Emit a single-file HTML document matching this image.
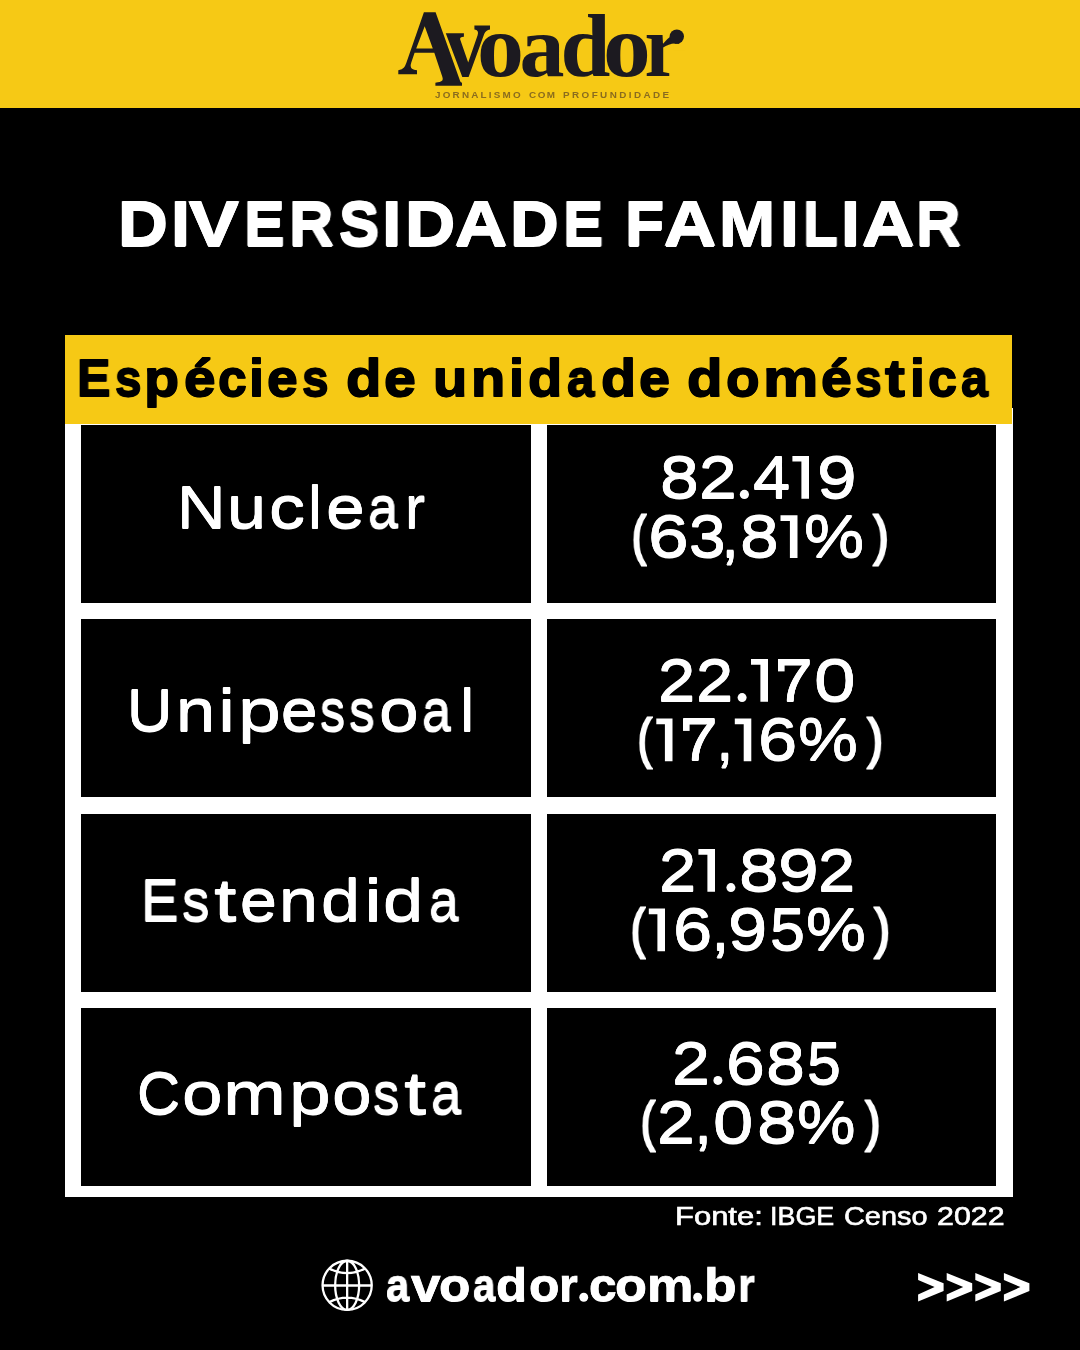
<!DOCTYPE html>
<html><head><meta charset="utf-8"><title>Diversidade Familiar</title>
<style>
html,body{margin:0;padding:0;background:#000;}
body{width:1080px;height:1350px;position:relative;overflow:hidden;font-family:"Liberation Sans",sans-serif;}
.t{position:absolute;white-space:pre;transform-origin:0 0;margin:0;will-change:transform;}
.c{position:absolute;background:#000;}
#top{position:absolute;left:0;top:0;width:1080px;height:108px;background:#F6C915;}
#tbl{position:absolute;left:65px;top:408px;width:947.5px;height:788.8px;background:#fff;}
#hdr{position:absolute;left:65px;top:335px;width:947px;height:88.5px;background:#F6C915;}
svg{position:absolute;left:0;top:0;}
</style></head><body>
<div id="top"></div>
<svg width="1080" height="110" viewBox="0 0 1080 110" role="img" aria-label="Avoador" style="font-family:'Liberation Serif',serif;font-weight:bold" fill="#1c1a20"><path d="M445.8,33.3 L463.9,33.3 L463.9,36.7 Q459.5,36.9 460.2,39.4 L468.2,62.4 L477.6,35.2 Q479.3,30 474.4,29.4 L474.4,25.6 L490,25.6 L490,29.4 Q485.8,29.9 484.2,34 L468.6,76.9 L462.3,76.9 L447.2,36.9 Z"/><path d="M423.9,12.2 L435.6,12.2 L460.3,81.5 Q460.8,82.6 462,82.7 L462,85.7 L435.4,85.7 L435.4,82.7 Q440.5,82.3 442.3,80.6 Q443.2,79.3 442.4,77 L434.3,52.8 L414.6,52.8 L411.3,62.5 Q409.8,67 412,68.8 Q413.6,70 417,70.3 L417,74.3 L398.3,74.3 L398.3,70.3 Q402.2,69.8 404,67.5 Q405.3,65.8 406.3,63 Z M424.7,26.3 L416.2,48.4 L432.8,48.4 Z" stroke="#F6C915" stroke-width="0.8" paint-order="stroke"/><text transform="translate(477.06,75.50) scale(1.0508,1)" font-size="89.40">o</text><text transform="translate(519.59,75.50) scale(1.0070,1)" font-size="89.40">a</text><text transform="translate(560.49,75.50) scale(1.0044,1)" font-size="89.40">d</text><text transform="translate(603.01,75.50) scale(1.0687,1)" font-size="89.40">o</text><text transform="translate(644.51,75.50) scale(0.9200,1)" font-size="89.40">r</text><circle cx="676.8" cy="36.6" r="7.2"/><rect x="673.6" y="43.9" width="12" height="6.5" fill="#F6C915"/></svg>
<div id="tbl"></div>
<div id="hdr"></div>
<div class="c" style="left:81px;top:425px;width:449.5px;height:178px"></div>
<div class="c" style="left:547px;top:425px;width:449px;height:178px"></div>
<div class="c" style="left:81px;top:619.3px;width:449.5px;height:178px"></div>
<div class="c" style="left:547px;top:619.3px;width:449px;height:178px"></div>
<div class="c" style="left:81px;top:813.7px;width:449.5px;height:178px"></div>
<div class="c" style="left:547px;top:813.7px;width:449px;height:178px"></div>
<div class="c" style="left:81px;top:1008px;width:449.5px;height:178px"></div>
<div class="c" style="left:547px;top:1008px;width:449px;height:178px"></div>
<div class="w" role="text" aria-label="DIVERSIDADE"><span class="t" style="left:118.45px;top:192.29px;font-size:62.86px;line-height:62.86px;transform:scaleX(1.0986);color:#fff;font-weight:bold;-webkit-text-stroke:1.4px #fff;text-shadow:0 1px 0 #fff,0 2px 0 #fff,0 -1px 0 #fff;">D</span><span class="t" style="left:170.99px;top:192.29px;font-size:62.86px;line-height:62.86px;transform:scaleX(1.0871);color:#fff;font-weight:bold;-webkit-text-stroke:1.4px #fff;text-shadow:0 1px 0 #fff,0 2px 0 #fff,0 -1px 0 #fff;">I</span><span class="t" style="left:189.13px;top:192.29px;font-size:62.86px;line-height:62.86px;transform:scaleX(1.1848);color:#fff;font-weight:bold;-webkit-text-stroke:1.4px #fff;text-shadow:0 1px 0 #fff,0 2px 0 #fff,0 -1px 0 #fff;">V</span><span class="t" style="left:243.57px;top:192.29px;font-size:62.86px;line-height:62.86px;transform:scaleX(0.9697);color:#fff;font-weight:bold;-webkit-text-stroke:1.4px #fff;text-shadow:0 1px 0 #fff,0 2px 0 #fff,0 -1px 0 #fff;">E</span><span class="t" style="left:289.34px;top:192.29px;font-size:62.86px;line-height:62.86px;transform:scaleX(0.9791);color:#fff;font-weight:bold;-webkit-text-stroke:1.4px #fff;text-shadow:0 1px 0 #fff,0 2px 0 #fff,0 -1px 0 #fff;">R</span><span class="t" style="left:338.93px;top:192.29px;font-size:62.86px;line-height:62.86px;transform:scaleX(0.9610);color:#fff;font-weight:bold;-webkit-text-stroke:1.4px #fff;text-shadow:0 1px 0 #fff,0 2px 0 #fff,0 -1px 0 #fff;">S</span><span class="t" style="left:382.20px;top:192.29px;font-size:62.86px;line-height:62.86px;transform:scaleX(1.1139);color:#fff;font-weight:bold;-webkit-text-stroke:1.4px #fff;text-shadow:0 1px 0 #fff,0 2px 0 #fff,0 -1px 0 #fff;">I</span><span class="t" style="left:404.73px;top:192.29px;font-size:62.86px;line-height:62.86px;transform:scaleX(1.1060);color:#fff;font-weight:bold;-webkit-text-stroke:1.4px #fff;text-shadow:0 1px 0 #fff,0 2px 0 #fff,0 -1px 0 #fff;">D</span><span class="t" style="left:455.48px;top:192.29px;font-size:62.86px;line-height:62.86px;transform:scaleX(1.1475);color:#fff;font-weight:bold;-webkit-text-stroke:1.4px #fff;text-shadow:0 1px 0 #fff,0 2px 0 #fff,0 -1px 0 #fff;">A</span><span class="t" style="left:509.83px;top:192.29px;font-size:62.86px;line-height:62.86px;transform:scaleX(1.0740);color:#fff;font-weight:bold;-webkit-text-stroke:1.4px #fff;text-shadow:0 1px 0 #fff,0 2px 0 #fff,0 -1px 0 #fff;">D</span><span class="t" style="left:562.70px;top:192.29px;font-size:62.86px;line-height:62.86px;transform:scaleX(0.9591);color:#fff;font-weight:bold;-webkit-text-stroke:1.4px #fff;text-shadow:0 1px 0 #fff,0 2px 0 #fff,0 -1px 0 #fff;">E</span></div>
<div class="w" role="text" aria-label="FAMILIAR"><span class="t" style="left:624.71px;top:192.29px;font-size:62.86px;line-height:62.86px;transform:scaleX(1.0203);color:#fff;font-weight:bold;-webkit-text-stroke:1.4px #fff;text-shadow:0 1px 0 #fff,0 2px 0 #fff,0 -1px 0 #fff;">F</span><span class="t" style="left:664.38px;top:192.29px;font-size:62.86px;line-height:62.86px;transform:scaleX(1.1453);color:#fff;font-weight:bold;-webkit-text-stroke:1.4px #fff;text-shadow:0 1px 0 #fff,0 2px 0 #fff,0 -1px 0 #fff;">A</span><span class="t" style="left:719.03px;top:192.29px;font-size:62.86px;line-height:62.86px;transform:scaleX(1.0734);color:#fff;font-weight:bold;-webkit-text-stroke:1.4px #fff;text-shadow:0 1px 0 #fff,0 2px 0 #fff,0 -1px 0 #fff;">M</span><span class="t" style="left:779.62px;top:192.29px;font-size:62.86px;line-height:62.86px;transform:scaleX(1.0782);color:#fff;font-weight:bold;-webkit-text-stroke:1.4px #fff;text-shadow:0 1px 0 #fff,0 2px 0 #fff,0 -1px 0 #fff;">I</span><span class="t" style="left:802.77px;top:192.29px;font-size:62.86px;line-height:62.86px;transform:scaleX(0.9082);color:#fff;font-weight:bold;-webkit-text-stroke:1.4px #fff;text-shadow:0 1px 0 #fff,0 2px 0 #fff,0 -1px 0 #fff;">L</span><span class="t" style="left:841.02px;top:192.29px;font-size:62.86px;line-height:62.86px;transform:scaleX(1.0782);color:#fff;font-weight:bold;-webkit-text-stroke:1.4px #fff;text-shadow:0 1px 0 #fff,0 2px 0 #fff,0 -1px 0 #fff;">I</span><span class="t" style="left:862.27px;top:192.29px;font-size:62.86px;line-height:62.86px;transform:scaleX(1.1520);color:#fff;font-weight:bold;-webkit-text-stroke:1.4px #fff;text-shadow:0 1px 0 #fff,0 2px 0 #fff,0 -1px 0 #fff;">A</span><span class="t" style="left:915.93px;top:192.29px;font-size:62.86px;line-height:62.86px;transform:scaleX(0.9815);color:#fff;font-weight:bold;-webkit-text-stroke:1.4px #fff;text-shadow:0 1px 0 #fff,0 2px 0 #fff,0 -1px 0 #fff;">R</span></div>
<div class="w" role="text" aria-label="Espécies"><span class="t" style="left:76.79px;top:352.75px;font-size:51.63px;line-height:51.63px;transform:scaleX(0.9730);color:#000;font-weight:bold;-webkit-text-stroke:1.5px #000;text-shadow:0 1px 0 #000,0 -1px 0 #000;">E</span><span class="t" style="left:114.51px;top:352.75px;font-size:51.63px;line-height:51.63px;transform:scaleX(0.9205);color:#000;font-weight:bold;-webkit-text-stroke:1.5px #000;text-shadow:0 1px 0 #000,0 -1px 0 #000;">s</span><span class="t" style="left:144.24px;top:352.75px;font-size:51.63px;line-height:51.63px;transform:scaleX(1.1131);color:#000;font-weight:bold;-webkit-text-stroke:1.5px #000;text-shadow:0 1px 0 #000,0 -1px 0 #000;">p</span><span class="t" style="left:184.05px;top:352.75px;font-size:51.63px;line-height:51.63px;transform:scaleX(1.0984);color:#000;font-weight:bold;-webkit-text-stroke:1.5px #000;text-shadow:0 1px 0 #000,0 -1px 0 #000;">é</span><span class="t" style="left:218.34px;top:352.75px;font-size:51.63px;line-height:51.63px;transform:scaleX(0.9995);color:#000;font-weight:bold;-webkit-text-stroke:1.5px #000;text-shadow:0 1px 0 #000,0 -1px 0 #000;">c</span><span class="t" style="left:249.41px;top:352.75px;font-size:51.63px;line-height:51.63px;transform:scaleX(1.0453);color:#000;font-weight:bold;-webkit-text-stroke:1.5px #000;text-shadow:0 1px 0 #000,0 -1px 0 #000;">i</span><span class="t" style="left:267.38px;top:352.75px;font-size:51.63px;line-height:51.63px;transform:scaleX(1.0691);color:#000;font-weight:bold;-webkit-text-stroke:1.5px #000;text-shadow:0 1px 0 #000,0 -1px 0 #000;">e</span><span class="t" style="left:302.20px;top:352.75px;font-size:51.63px;line-height:51.63px;transform:scaleX(0.9243);color:#000;font-weight:bold;-webkit-text-stroke:1.5px #000;text-shadow:0 1px 0 #000,0 -1px 0 #000;">s</span></div>
<div class="w" role="text" aria-label="de"><span class="t" style="left:345.73px;top:352.75px;font-size:51.63px;line-height:51.63px;transform:scaleX(1.1238);color:#000;font-weight:bold;-webkit-text-stroke:1.5px #000;text-shadow:0 1px 0 #000,0 -1px 0 #000;">d</span><span class="t" style="left:383.74px;top:352.75px;font-size:51.63px;line-height:51.63px;transform:scaleX(1.1093);color:#000;font-weight:bold;-webkit-text-stroke:1.5px #000;text-shadow:0 1px 0 #000,0 -1px 0 #000;">e</span></div>
<div class="w" role="text" aria-label="unidade"><span class="t" style="left:433.48px;top:352.75px;font-size:51.63px;line-height:51.63px;transform:scaleX(1.0874);color:#000;font-weight:bold;-webkit-text-stroke:1.5px #000;text-shadow:0 1px 0 #000,0 -1px 0 #000;">u</span><span class="t" style="left:470.61px;top:352.75px;font-size:51.63px;line-height:51.63px;transform:scaleX(1.0874);color:#000;font-weight:bold;-webkit-text-stroke:1.5px #000;text-shadow:0 1px 0 #000,0 -1px 0 #000;">n</span><span class="t" style="left:509.11px;top:352.75px;font-size:51.63px;line-height:51.63px;transform:scaleX(1.0453);color:#000;font-weight:bold;-webkit-text-stroke:1.5px #000;text-shadow:0 1px 0 #000,0 -1px 0 #000;">i</span><span class="t" style="left:528.26px;top:352.75px;font-size:51.63px;line-height:51.63px;transform:scaleX(1.0846);color:#000;font-weight:bold;-webkit-text-stroke:1.5px #000;text-shadow:0 1px 0 #000,0 -1px 0 #000;">d</span><span class="t" style="left:566.65px;top:352.75px;font-size:51.63px;line-height:51.63px;transform:scaleX(0.9518);color:#000;font-weight:bold;-webkit-text-stroke:1.5px #000;text-shadow:0 1px 0 #000,0 -1px 0 #000;">a</span><span class="t" style="left:600.74px;top:352.75px;font-size:51.63px;line-height:51.63px;transform:scaleX(1.1131);color:#000;font-weight:bold;-webkit-text-stroke:1.5px #000;text-shadow:0 1px 0 #000,0 -1px 0 #000;">d</span><span class="t" style="left:638.77px;top:352.75px;font-size:51.63px;line-height:51.63px;transform:scaleX(1.0801);color:#000;font-weight:bold;-webkit-text-stroke:1.5px #000;text-shadow:0 1px 0 #000,0 -1px 0 #000;">e</span></div>
<div class="w" role="text" aria-label="doméstica"><span class="t" style="left:687.33px;top:352.75px;font-size:51.63px;line-height:51.63px;transform:scaleX(1.1273);color:#000;font-weight:bold;-webkit-text-stroke:1.5px #000;text-shadow:0 1px 0 #000,0 -1px 0 #000;">d</span><span class="t" style="left:726.08px;top:352.75px;font-size:51.63px;line-height:51.63px;transform:scaleX(1.0661);color:#000;font-weight:bold;-webkit-text-stroke:1.5px #000;text-shadow:0 1px 0 #000,0 -1px 0 #000;">o</span><span class="t" style="left:763.31px;top:352.75px;font-size:51.63px;line-height:51.63px;transform:scaleX(1.2065);color:#000;font-weight:bold;-webkit-text-stroke:1.5px #000;text-shadow:0 1px 0 #000,0 -1px 0 #000;">m</span><span class="t" style="left:821.07px;top:352.75px;font-size:51.63px;line-height:51.63px;transform:scaleX(1.0727);color:#000;font-weight:bold;-webkit-text-stroke:1.5px #000;text-shadow:0 1px 0 #000,0 -1px 0 #000;">é</span><span class="t" style="left:854.50px;top:352.75px;font-size:51.63px;line-height:51.63px;transform:scaleX(0.9318);color:#000;font-weight:bold;-webkit-text-stroke:1.5px #000;text-shadow:0 1px 0 #000,0 -1px 0 #000;">s</span><span class="t" style="left:885.47px;top:352.75px;font-size:51.63px;line-height:51.63px;transform:scaleX(1.1551);color:#000;font-weight:bold;-webkit-text-stroke:1.5px #000;text-shadow:0 1px 0 #000,0 -1px 0 #000;">t</span><span class="t" style="left:909.84px;top:352.75px;font-size:51.63px;line-height:51.63px;transform:scaleX(1.0348);color:#000;font-weight:bold;-webkit-text-stroke:1.5px #000;text-shadow:0 1px 0 #000,0 -1px 0 #000;">i</span><span class="t" style="left:928.13px;top:352.75px;font-size:51.63px;line-height:51.63px;transform:scaleX(1.0068);color:#000;font-weight:bold;-webkit-text-stroke:1.5px #000;text-shadow:0 1px 0 #000,0 -1px 0 #000;">c</span><span class="t" style="left:960.95px;top:352.75px;font-size:51.63px;line-height:51.63px;transform:scaleX(0.9383);color:#000;font-weight:bold;-webkit-text-stroke:1.5px #000;text-shadow:0 1px 0 #000,0 -1px 0 #000;">a</span></div>
<div class="w" role="text" aria-label="Nuclear"><span class="t" style="left:176.63px;top:478.37px;font-size:59.16px;line-height:59.16px;transform:scaleX(1.1368);color:#fff;-webkit-text-stroke:0.5px #fff;text-shadow:0 1px 0 #fff,0 -1px 0 #fff;">N</span><span class="t" style="left:227.31px;top:478.37px;font-size:59.16px;line-height:59.16px;transform:scaleX(1.1863);color:#fff;-webkit-text-stroke:0.5px #fff;text-shadow:0 1px 0 #fff,0 -1px 0 #fff;">u</span><span class="t" style="left:269.06px;top:478.37px;font-size:59.16px;line-height:59.16px;transform:scaleX(1.2157);color:#fff;-webkit-text-stroke:0.5px #fff;text-shadow:0 1px 0 #fff,0 -1px 0 #fff;">c</span><span class="t" style="left:308.35px;top:478.37px;font-size:59.16px;line-height:59.16px;transform:scaleX(1.0584);color:#fff;-webkit-text-stroke:0.5px #fff;text-shadow:0 1px 0 #fff,0 -1px 0 #fff;">l</span><span class="t" style="left:326.02px;top:478.37px;font-size:59.16px;line-height:59.16px;transform:scaleX(1.1764);color:#fff;-webkit-text-stroke:0.5px #fff;text-shadow:0 1px 0 #fff,0 -1px 0 #fff;">e</span><span class="t" style="left:368.34px;top:478.37px;font-size:59.16px;line-height:59.16px;transform:scaleX(0.9145);color:#fff;-webkit-text-stroke:0.5px #fff;text-shadow:0 1px 0 #fff,0 -1px 0 #fff;">a</span><span class="t" style="left:404.99px;top:478.37px;font-size:59.16px;line-height:59.16px;transform:scaleX(1.0175);color:#fff;-webkit-text-stroke:0.5px #fff;text-shadow:0 1px 0 #fff,0 -1px 0 #fff;">r</span></div>
<div class="w" role="text" aria-label="Unipessoal"><span class="t" style="left:127.13px;top:681.69px;font-size:59.02px;line-height:59.02px;transform:scaleX(1.0663);color:#fff;-webkit-text-stroke:0.5px #fff;text-shadow:0 1px 0 #fff,0 -1px 0 #fff;">U</span><span class="t" style="left:176.20px;top:681.69px;font-size:59.02px;line-height:59.02px;transform:scaleX(1.1929);color:#fff;-webkit-text-stroke:0.5px #fff;text-shadow:0 1px 0 #fff,0 -1px 0 #fff;">n</span><span class="t" style="left:218.20px;top:681.69px;font-size:59.02px;line-height:59.02px;transform:scaleX(1.3094);color:#fff;-webkit-text-stroke:0.5px #fff;text-shadow:0 1px 0 #fff,0 -1px 0 #fff;">i</span><span class="t" style="left:238.32px;top:681.69px;font-size:59.02px;line-height:59.02px;transform:scaleX(1.3030);color:#fff;-webkit-text-stroke:0.5px #fff;text-shadow:0 1px 0 #fff,0 -1px 0 #fff;">p</span><span class="t" style="left:281.02px;top:681.69px;font-size:59.02px;line-height:59.02px;transform:scaleX(1.1138);color:#fff;-webkit-text-stroke:0.5px #fff;text-shadow:0 1px 0 #fff,0 -1px 0 #fff;">e</span><span class="t" style="left:319.63px;top:681.69px;font-size:59.02px;line-height:59.02px;transform:scaleX(0.8479);color:#fff;-webkit-text-stroke:0.5px #fff;text-shadow:0 1px 0 #fff,0 -1px 0 #fff;">s</span><span class="t" style="left:349.42px;top:681.69px;font-size:59.02px;line-height:59.02px;transform:scaleX(0.8699);color:#fff;-webkit-text-stroke:0.5px #fff;text-shadow:0 1px 0 #fff,0 -1px 0 #fff;">s</span><span class="t" style="left:379.38px;top:681.69px;font-size:59.02px;line-height:59.02px;transform:scaleX(1.2066);color:#fff;-webkit-text-stroke:0.5px #fff;text-shadow:0 1px 0 #fff,0 -1px 0 #fff;">o</span><span class="t" style="left:421.99px;top:681.69px;font-size:59.02px;line-height:59.02px;transform:scaleX(0.8821);color:#fff;-webkit-text-stroke:0.5px #fff;text-shadow:0 1px 0 #fff,0 -1px 0 #fff;">a</span><span class="t" style="left:460.24px;top:681.69px;font-size:59.02px;line-height:59.02px;transform:scaleX(1.0939);color:#fff;-webkit-text-stroke:0.5px #fff;text-shadow:0 1px 0 #fff,0 -1px 0 #fff;">l</span></div>
<div class="w" role="text" aria-label="Estendida"><span class="t" style="left:141.12px;top:871.69px;font-size:59.02px;line-height:59.02px;transform:scaleX(0.9580);color:#fff;-webkit-text-stroke:0.5px #fff;text-shadow:0 1px 0 #fff,0 -1px 0 #fff;">E</span><span class="t" style="left:182.38px;top:871.69px;font-size:59.02px;line-height:59.02px;transform:scaleX(0.9286);color:#fff;-webkit-text-stroke:0.5px #fff;text-shadow:0 1px 0 #fff,0 -1px 0 #fff;">s</span><span class="t" style="left:213.64px;top:871.69px;font-size:59.02px;line-height:59.02px;transform:scaleX(1.3684);color:#fff;-webkit-text-stroke:0.5px #fff;text-shadow:0 1px 0 #fff,0 -1px 0 #fff;">t</span><span class="t" style="left:240.21px;top:871.69px;font-size:59.02px;line-height:59.02px;transform:scaleX(1.1241);color:#fff;-webkit-text-stroke:0.5px #fff;text-shadow:0 1px 0 #fff,0 -1px 0 #fff;">e</span><span class="t" style="left:278.92px;top:871.69px;font-size:59.02px;line-height:59.02px;transform:scaleX(1.1853);color:#fff;-webkit-text-stroke:0.5px #fff;text-shadow:0 1px 0 #fff,0 -1px 0 #fff;">n</span><span class="t" style="left:321.41px;top:871.69px;font-size:59.02px;line-height:59.02px;transform:scaleX(1.1858);color:#fff;-webkit-text-stroke:0.5px #fff;text-shadow:0 1px 0 #fff,0 -1px 0 #fff;">d</span><span class="t" style="left:363.57px;top:871.69px;font-size:59.02px;line-height:59.02px;transform:scaleX(1.3757);color:#fff;-webkit-text-stroke:0.5px #fff;text-shadow:0 1px 0 #fff,0 -1px 0 #fff;">i</span><span class="t" style="left:383.35px;top:871.69px;font-size:59.02px;line-height:59.02px;transform:scaleX(1.2213);color:#fff;-webkit-text-stroke:0.5px #fff;text-shadow:0 1px 0 #fff,0 -1px 0 #fff;">d</span><span class="t" style="left:428.56px;top:871.69px;font-size:59.02px;line-height:59.02px;transform:scaleX(0.9009);color:#fff;-webkit-text-stroke:0.5px #fff;text-shadow:0 1px 0 #fff,0 -1px 0 #fff;">a</span></div>
<div class="w" role="text" aria-label="Composta"><span class="t" style="left:136.76px;top:1064.59px;font-size:59.02px;line-height:59.02px;transform:scaleX(1.0102);color:#fff;-webkit-text-stroke:0.5px #fff;text-shadow:0 1px 0 #fff,0 -1px 0 #fff;">C</span><span class="t" style="left:181.83px;top:1064.59px;font-size:59.02px;line-height:59.02px;transform:scaleX(1.2341);color:#fff;-webkit-text-stroke:0.5px #fff;text-shadow:0 1px 0 #fff,0 -1px 0 #fff;">o</span><span class="t" style="left:222.79px;top:1064.59px;font-size:59.02px;line-height:59.02px;transform:scaleX(1.2814);color:#fff;-webkit-text-stroke:0.5px #fff;text-shadow:0 1px 0 #fff,0 -1px 0 #fff;">m</span><span class="t" style="left:288.83px;top:1064.59px;font-size:59.02px;line-height:59.02px;transform:scaleX(1.2700);color:#fff;-webkit-text-stroke:0.5px #fff;text-shadow:0 1px 0 #fff,0 -1px 0 #fff;">p</span><span class="t" style="left:331.88px;top:1064.59px;font-size:59.02px;line-height:59.02px;transform:scaleX(1.2066);color:#fff;-webkit-text-stroke:0.5px #fff;text-shadow:0 1px 0 #fff,0 -1px 0 #fff;">o</span><span class="t" style="left:373.10px;top:1064.59px;font-size:59.02px;line-height:59.02px;transform:scaleX(0.8919);color:#fff;-webkit-text-stroke:0.5px #fff;text-shadow:0 1px 0 #fff,0 -1px 0 #fff;">s</span><span class="t" style="left:404.34px;top:1064.59px;font-size:59.02px;line-height:59.02px;transform:scaleX(1.3567);color:#fff;-webkit-text-stroke:0.5px #fff;text-shadow:0 1px 0 #fff,0 -1px 0 #fff;">t</span><span class="t" style="left:430.53px;top:1064.59px;font-size:59.02px;line-height:59.02px;transform:scaleX(0.9229);color:#fff;-webkit-text-stroke:0.5px #fff;text-shadow:0 1px 0 #fff,0 -1px 0 #fff;">a</span></div>
<div class="w" role="text" aria-label="82.419"><span class="t" style="left:660.11px;top:448.69px;font-size:59.02px;line-height:59.02px;transform:scaleX(1.1826);color:#fff;-webkit-text-stroke:0.5px #fff;text-shadow:0 1px 0 #fff,0 -1px 0 #fff;">8</span><span class="t" style="left:698.71px;top:448.69px;font-size:59.02px;line-height:59.02px;transform:scaleX(1.1503);color:#fff;-webkit-text-stroke:0.5px #fff;text-shadow:0 1px 0 #fff,0 -1px 0 #fff;">2</span><span class="t" style="left:733.23px;top:447.17px;font-size:60.87px;line-height:60.87px;transform:scaleX(1.3818);color:#fff;visibility:hidden;">.</span><span class="t" style="left:753.24px;top:448.69px;font-size:59.02px;line-height:59.02px;transform:scaleX(1.1315);color:#fff;-webkit-text-stroke:0.5px #fff;text-shadow:0 1px 0 #fff,0 -1px 0 #fff;">4</span><span class="t" style="left:790.11px;top:447.17px;font-size:60.87px;line-height:60.87px;transform:scaleX(0.6018);color:#fff;visibility:hidden;">1</span><span class="t" style="left:816.96px;top:448.69px;font-size:59.02px;line-height:59.02px;transform:scaleX(1.2071);color:#fff;-webkit-text-stroke:0.5px #fff;text-shadow:0 1px 0 #fff,0 -1px 0 #fff;">9</span></div>
<div class="w" role="text" aria-label="(63,81%)"><span class="t" style="left:631.72px;top:508.85px;font-size:53.93px;line-height:53.93px;transform:scaleX(0.7596);color:#fff;-webkit-text-stroke:3.0px #fff;">(</span><span class="t" style="left:648.17px;top:507.59px;font-size:59.02px;line-height:59.02px;transform:scaleX(1.2426);color:#fff;-webkit-text-stroke:0.5px #fff;text-shadow:0 1px 0 #fff,0 -1px 0 #fff;">6</span><span class="t" style="left:688.72px;top:507.59px;font-size:59.02px;line-height:59.02px;transform:scaleX(1.1173);color:#fff;-webkit-text-stroke:0.5px #fff;text-shadow:0 1px 0 #fff,0 -1px 0 #fff;">3</span><span class="t" style="left:721.48px;top:507.59px;font-size:59.02px;line-height:59.02px;transform:scaleX(1.1044);color:#fff;-webkit-text-stroke:0.5px #fff;text-shadow:0 1px 0 #fff,0 -1px 0 #fff;">,</span><span class="t" style="left:740.12px;top:507.59px;font-size:59.02px;line-height:59.02px;transform:scaleX(1.1791);color:#fff;-webkit-text-stroke:0.5px #fff;text-shadow:0 1px 0 #fff,0 -1px 0 #fff;">8</span><span class="t" style="left:778.16px;top:506.47px;font-size:60.87px;line-height:60.87px;transform:scaleX(0.6163);color:#fff;visibility:hidden;">1</span><span class="t" style="left:803.68px;top:507.59px;font-size:59.02px;line-height:59.02px;transform:scaleX(1.1442);color:#fff;-webkit-text-stroke:0.5px #fff;text-shadow:0 1px 0 #fff,0 -1px 0 #fff;">%</span><span class="t" style="left:874.20px;top:508.85px;font-size:53.93px;line-height:53.93px;transform:scaleX(0.7981);color:#fff;-webkit-text-stroke:3.0px #fff;">)</span></div>
<div class="w" role="text" aria-label="22.170"><span class="t" style="left:658.14px;top:651.59px;font-size:59.02px;line-height:59.02px;transform:scaleX(1.1361);color:#fff;-webkit-text-stroke:0.5px #fff;text-shadow:0 1px 0 #fff,0 -1px 0 #fff;">2</span><span class="t" style="left:696.14px;top:651.59px;font-size:59.02px;line-height:59.02px;transform:scaleX(1.1361);color:#fff;-webkit-text-stroke:0.5px #fff;text-shadow:0 1px 0 #fff,0 -1px 0 #fff;">2</span><span class="t" style="left:731.17px;top:650.27px;font-size:60.87px;line-height:60.87px;transform:scaleX(1.3518);color:#fff;visibility:hidden;">.</span><span class="t" style="left:748.66px;top:650.27px;font-size:60.87px;line-height:60.87px;transform:scaleX(0.6163);color:#fff;visibility:hidden;">1</span><span class="t" style="left:775.11px;top:651.59px;font-size:59.02px;line-height:59.02px;transform:scaleX(1.1503);color:#fff;-webkit-text-stroke:0.5px #fff;text-shadow:0 1px 0 #fff,0 -1px 0 #fff;">7</span><span class="t" style="left:813.98px;top:651.59px;font-size:59.02px;line-height:59.02px;transform:scaleX(1.2662);color:#fff;-webkit-text-stroke:0.5px #fff;text-shadow:0 1px 0 #fff,0 -1px 0 #fff;">0</span></div>
<div class="w" role="text" aria-label="(17,16%)"><span class="t" style="left:638.05px;top:712.15px;font-size:53.93px;line-height:53.93px;transform:scaleX(0.7266);color:#fff;-webkit-text-stroke:3.0px #fff;">(</span><span class="t" style="left:654.07px;top:709.77px;font-size:60.87px;line-height:60.87px;transform:scaleX(0.5873);color:#fff;visibility:hidden;">1</span><span class="t" style="left:680.11px;top:711.09px;font-size:59.02px;line-height:59.02px;transform:scaleX(1.1503);color:#fff;-webkit-text-stroke:0.5px #fff;text-shadow:0 1px 0 #fff,0 -1px 0 #fff;">7</span><span class="t" style="left:715.79px;top:711.09px;font-size:59.02px;line-height:59.02px;transform:scaleX(1.0790);color:#fff;-webkit-text-stroke:0.5px #fff;text-shadow:0 1px 0 #fff,0 -1px 0 #fff;">,</span><span class="t" style="left:732.52px;top:709.77px;font-size:60.87px;line-height:60.87px;transform:scaleX(0.5982);color:#fff;visibility:hidden;">1</span><span class="t" style="left:758.29px;top:711.09px;font-size:59.02px;line-height:59.02px;transform:scaleX(1.1964);color:#fff;-webkit-text-stroke:0.5px #fff;text-shadow:0 1px 0 #fff,0 -1px 0 #fff;">6</span><span class="t" style="left:798.18px;top:711.09px;font-size:59.02px;line-height:59.02px;transform:scaleX(1.1402);color:#fff;-webkit-text-stroke:0.5px #fff;text-shadow:0 1px 0 #fff,0 -1px 0 #fff;">%</span><span class="t" style="left:867.54px;top:712.15px;font-size:53.93px;line-height:53.93px;transform:scaleX(0.8257);color:#fff;-webkit-text-stroke:3.0px #fff;">)</span></div>
<div class="w" role="text" aria-label="21.892"><span class="t" style="left:658.74px;top:841.59px;font-size:59.02px;line-height:59.02px;transform:scaleX(1.1361);color:#fff;-webkit-text-stroke:0.5px #fff;text-shadow:0 1px 0 #fff,0 -1px 0 #fff;">2</span><span class="t" style="left:696.11px;top:840.27px;font-size:60.87px;line-height:60.87px;transform:scaleX(0.6018);color:#fff;visibility:hidden;">1</span><span class="t" style="left:719.97px;top:840.27px;font-size:60.87px;line-height:60.87px;transform:scaleX(1.3518);color:#fff;visibility:hidden;">.</span><span class="t" style="left:739.08px;top:841.59px;font-size:59.02px;line-height:59.02px;transform:scaleX(1.2032);color:#fff;-webkit-text-stroke:0.5px #fff;text-shadow:0 1px 0 #fff,0 -1px 0 #fff;">8</span><span class="t" style="left:777.87px;top:841.59px;font-size:59.02px;line-height:59.02px;transform:scaleX(1.2426);color:#fff;-webkit-text-stroke:0.5px #fff;text-shadow:0 1px 0 #fff,0 -1px 0 #fff;">9</span><span class="t" style="left:818.14px;top:841.59px;font-size:59.02px;line-height:59.02px;transform:scaleX(1.1361);color:#fff;-webkit-text-stroke:0.5px #fff;text-shadow:0 1px 0 #fff,0 -1px 0 #fff;">2</span></div>
<div class="w" role="text" aria-label="(16,95%)"><span class="t" style="left:630.52px;top:902.15px;font-size:53.93px;line-height:53.93px;transform:scaleX(0.7541);color:#fff;-webkit-text-stroke:3.0px #fff;">(</span><span class="t" style="left:646.57px;top:899.77px;font-size:60.87px;line-height:60.87px;transform:scaleX(0.5873);color:#fff;visibility:hidden;">1</span><span class="t" style="left:673.29px;top:901.09px;font-size:59.02px;line-height:59.02px;transform:scaleX(1.1964);color:#fff;-webkit-text-stroke:0.5px #fff;text-shadow:0 1px 0 #fff,0 -1px 0 #fff;">6</span><span class="t" style="left:710.52px;top:901.09px;font-size:59.02px;line-height:59.02px;transform:scaleX(1.1425);color:#fff;-webkit-text-stroke:0.5px #fff;text-shadow:0 1px 0 #fff,0 -1px 0 #fff;">,</span><span class="t" style="left:728.29px;top:901.09px;font-size:59.02px;line-height:59.02px;transform:scaleX(1.1964);color:#fff;-webkit-text-stroke:0.5px #fff;text-shadow:0 1px 0 #fff,0 -1px 0 #fff;">9</span><span class="t" style="left:770.30px;top:901.09px;font-size:59.02px;line-height:59.02px;transform:scaleX(1.0657);color:#fff;-webkit-text-stroke:0.5px #fff;text-shadow:0 1px 0 #fff,0 -1px 0 #fff;">5</span><span class="t" style="left:805.68px;top:901.09px;font-size:59.02px;line-height:59.02px;transform:scaleX(1.1402);color:#fff;-webkit-text-stroke:0.5px #fff;text-shadow:0 1px 0 #fff,0 -1px 0 #fff;">%</span><span class="t" style="left:875.04px;top:902.15px;font-size:53.93px;line-height:53.93px;transform:scaleX(0.8257);color:#fff;-webkit-text-stroke:3.0px #fff;">)</span></div>
<div class="w" role="text" aria-label="2.685"><span class="t" style="left:672.09px;top:1034.59px;font-size:59.02px;line-height:59.02px;transform:scaleX(1.1574);color:#fff;-webkit-text-stroke:0.5px #fff;text-shadow:0 1px 0 #fff,0 -1px 0 #fff;">2</span><span class="t" style="left:706.97px;top:1033.07px;font-size:60.87px;line-height:60.87px;transform:scaleX(1.3518);color:#fff;visibility:hidden;">.</span><span class="t" style="left:726.02px;top:1034.59px;font-size:59.02px;line-height:59.02px;transform:scaleX(1.1858);color:#fff;-webkit-text-stroke:0.5px #fff;text-shadow:0 1px 0 #fff,0 -1px 0 #fff;">6</span><span class="t" style="left:766.10px;top:1034.59px;font-size:59.02px;line-height:59.02px;transform:scaleX(1.1895);color:#fff;-webkit-text-stroke:0.5px #fff;text-shadow:0 1px 0 #fff,0 -1px 0 #fff;">8</span><span class="t" style="left:807.36px;top:1034.59px;font-size:59.02px;line-height:59.02px;transform:scaleX(1.0313);color:#fff;-webkit-text-stroke:0.5px #fff;text-shadow:0 1px 0 #fff,0 -1px 0 #fff;">5</span></div>
<div class="w" role="text" aria-label="(2,08%)"><span class="t" style="left:640.52px;top:1094.95px;font-size:53.93px;line-height:53.93px;transform:scaleX(0.7541);color:#fff;-webkit-text-stroke:3.0px #fff;">(</span><span class="t" style="left:657.10px;top:1093.89px;font-size:59.02px;line-height:59.02px;transform:scaleX(1.1538);color:#fff;-webkit-text-stroke:0.5px #fff;text-shadow:0 1px 0 #fff,0 -1px 0 #fff;">2</span><span class="t" style="left:693.98px;top:1093.89px;font-size:59.02px;line-height:59.02px;transform:scaleX(1.1044);color:#fff;-webkit-text-stroke:0.5px #fff;text-shadow:0 1px 0 #fff,0 -1px 0 #fff;">,</span><span class="t" style="left:712.54px;top:1093.89px;font-size:59.02px;line-height:59.02px;transform:scaleX(1.2262);color:#fff;-webkit-text-stroke:0.5px #fff;text-shadow:0 1px 0 #fff,0 -1px 0 #fff;">0</span><span class="t" style="left:756.88px;top:1093.89px;font-size:59.02px;line-height:59.02px;transform:scaleX(1.2032);color:#fff;-webkit-text-stroke:0.5px #fff;text-shadow:0 1px 0 #fff,0 -1px 0 #fff;">8</span><span class="t" style="left:797.02px;top:1093.89px;font-size:59.02px;line-height:59.02px;transform:scaleX(1.1139);color:#fff;-webkit-text-stroke:0.5px #fff;text-shadow:0 1px 0 #fff,0 -1px 0 #fff;">%</span><span class="t" style="left:865.68px;top:1094.95px;font-size:53.93px;line-height:53.93px;transform:scaleX(0.7871);color:#fff;-webkit-text-stroke:3.0px #fff;">)</span></div>
<div class="w" role="text" aria-label="JORNALISMO"><span class="t" style="left:434.60px;top:91.24px;font-size:8.82px;line-height:8.82px;transform:scaleX(1.1200);color:#8a6c1e;font-weight:bold;letter-spacing:1.97px;">JORNALISMO</span></div>
<div class="w" role="text" aria-label="COM"><span class="t" style="left:529.39px;top:91.24px;font-size:8.82px;line-height:8.82px;transform:scaleX(1.1200);color:#8a6c1e;font-weight:bold;letter-spacing:1.37px;">COM</span></div>
<div class="w" role="text" aria-label="PROFUNDIDADE"><span class="t" style="left:563.38px;top:91.24px;font-size:8.82px;line-height:8.82px;transform:scaleX(1.1200);color:#8a6c1e;font-weight:bold;letter-spacing:2.16px;">PROFUNDIDADE</span></div>
<div class="w" role="text" aria-label="Fonte:"><span class="t" style="left:674.64px;top:1204.03px;font-size:25.60px;line-height:25.60px;transform:translateY(0.30px) scaleX(1.2097);color:#fff;-webkit-text-stroke:0.6px #fff;">Fonte:</span></div>
<div class="w" role="text" aria-label="IBGE"><span class="t" style="left:769.92px;top:1204.03px;font-size:25.60px;line-height:25.60px;transform:translateY(0.30px) scaleX(1.0494);color:#fff;-webkit-text-stroke:0.6px #fff;">IBGE</span></div>
<div class="w" role="text" aria-label="Censo"><span class="t" style="left:843.98px;top:1204.03px;font-size:25.60px;line-height:25.60px;transform:translateY(0.30px) scaleX(1.1290);color:#fff;-webkit-text-stroke:0.6px #fff;">Censo</span></div>
<div class="w" role="text" aria-label="2022"><span class="t" style="left:936.63px;top:1204.03px;font-size:25.60px;line-height:25.60px;transform:translateY(0.30px) scaleX(1.1860);color:#fff;-webkit-text-stroke:0.6px #fff;">2022</span></div>
<div class="w" role="text" aria-label="avoador.com.br"><span class="t" style="left:385.97px;top:1262.65px;font-size:45.36px;line-height:45.36px;transform:scaleX(0.9212);color:#fff;font-weight:bold;-webkit-text-stroke:0.7px #fff;text-shadow:0 1px 0 #fff;">a</span><span class="t" style="left:411.11px;top:1262.65px;font-size:45.36px;line-height:45.36px;transform:scaleX(1.1710);color:#fff;font-weight:bold;-webkit-text-stroke:0.7px #fff;text-shadow:0 1px 0 #fff;">v</span><span class="t" style="left:439.29px;top:1262.65px;font-size:45.36px;line-height:45.36px;transform:scaleX(1.1329);color:#fff;font-weight:bold;-webkit-text-stroke:0.7px #fff;text-shadow:0 1px 0 #fff;">o</span><span class="t" style="left:472.68px;top:1262.65px;font-size:45.36px;line-height:45.36px;transform:scaleX(0.8860);color:#fff;font-weight:bold;-webkit-text-stroke:0.7px #fff;text-shadow:0 1px 0 #fff;">a</span><span class="t" style="left:496.20px;top:1262.65px;font-size:45.36px;line-height:45.36px;transform:scaleX(1.1249);color:#fff;font-weight:bold;-webkit-text-stroke:0.7px #fff;text-shadow:0 1px 0 #fff;">d</span><span class="t" style="left:528.73px;top:1262.65px;font-size:45.36px;line-height:45.36px;transform:scaleX(1.0977);color:#fff;font-weight:bold;-webkit-text-stroke:0.7px #fff;text-shadow:0 1px 0 #fff;">o</span><span class="t" style="left:558.96px;top:1262.65px;font-size:45.36px;line-height:45.36px;transform:scaleX(1.0621);color:#fff;font-weight:bold;-webkit-text-stroke:0.7px #fff;text-shadow:0 1px 0 #fff;">r</span><span class="t" style="left:575.74px;top:1261.19px;font-size:47.62px;line-height:47.62px;transform:scaleX(1.1960);color:#fff;font-weight:bold;visibility:hidden;">.</span><span class="t" style="left:588.93px;top:1262.65px;font-size:45.36px;line-height:45.36px;transform:scaleX(1.0948);color:#fff;font-weight:bold;-webkit-text-stroke:0.7px #fff;text-shadow:0 1px 0 #fff;">c</span><span class="t" style="left:615.47px;top:1262.65px;font-size:45.36px;line-height:45.36px;transform:scaleX(1.1525);color:#fff;font-weight:bold;-webkit-text-stroke:0.7px #fff;text-shadow:0 1px 0 #fff;">o</span><span class="t" style="left:647.04px;top:1262.65px;font-size:45.36px;line-height:45.36px;transform:scaleX(1.1515);color:#fff;font-weight:bold;-webkit-text-stroke:0.7px #fff;text-shadow:0 1px 0 #fff;">m</span><span class="t" style="left:689.64px;top:1261.19px;font-size:47.62px;line-height:47.62px;transform:scaleX(1.1960);color:#fff;font-weight:bold;visibility:hidden;">.</span><span class="t" style="left:703.97px;top:1262.65px;font-size:45.36px;line-height:45.36px;transform:scaleX(1.1789);color:#fff;font-weight:bold;-webkit-text-stroke:0.7px #fff;text-shadow:0 1px 0 #fff;">b</span><span class="t" style="left:737.73px;top:1262.65px;font-size:45.36px;line-height:45.36px;transform:scaleX(0.9545);color:#fff;font-weight:bold;-webkit-text-stroke:0.7px #fff;text-shadow:0 1px 0 #fff;">r</span></div>
<svg width="1080" height="1350" viewBox="0 0 1080 1350">
<g fill="#fff"><polygon points="918.1,1273.0 943.6,1283.3 943.6,1290.9 918.1,1301.6 918.1,1294.4 934.6,1287.1 918.1,1280.1"/><polygon points="946.7,1273.0 972.2,1283.3 972.2,1290.9 946.7,1301.6 946.7,1294.4 963.2,1287.1 946.7,1280.1"/><polygon points="975.3,1273.0 1000.8,1283.3 1000.8,1290.9 975.3,1301.6 975.3,1294.4 991.8,1287.1 975.3,1280.1"/><polygon points="1003.9,1273.0 1029.4,1283.3 1029.4,1290.9 1003.9,1301.6 1003.9,1294.4 1020.4,1287.1 1003.9,1280.1"/><circle cx="744.40" cy="494.40" r="4.60"/><polygon points="792.40,455.90 809.00,455.90 809.00,498.70 801.40,498.70 801.40,461.60 792.40,461.60"/><polygon points="780.50,515.20 797.50,515.20 797.50,558.00 789.90,558.00 789.90,520.90 780.50,520.90"/><circle cx="742.10" cy="697.60" r="4.50"/><polygon points="751.00,659.00 768.00,659.00 768.00,701.80 760.40,701.80 760.40,664.70 751.00,664.70"/><rect x="778.00" y="659.00" width="6.6" height="12.4"/><polygon points="656.30,718.50 672.50,718.50 672.50,761.30 664.90,761.30 664.90,724.20 656.30,724.20"/><rect x="683.00" y="718.50" width="6.6" height="12.4"/><polygon points="734.80,718.50 751.30,718.50 751.30,761.30 743.70,761.30 743.70,724.20 734.80,724.20"/><polygon points="698.40,849.00 715.00,849.00 715.00,891.80 707.40,891.80 707.40,854.70 698.40,854.70"/><circle cx="730.90" cy="887.60" r="4.50"/><polygon points="648.80,908.50 665.00,908.50 665.00,951.30 657.40,951.30 657.40,914.20 648.80,914.20"/><circle cx="717.90" cy="1080.40" r="4.50"/><circle cx="583.75" cy="1297.25" r="4.45"/><circle cx="697.65" cy="1297.25" r="4.45"/></g>
<g fill="none" stroke="#fff" stroke-width="2.3"><circle cx="347.15" cy="1285.35" r="24.6"/><ellipse cx="347.15" cy="1285.35" rx="12" ry="24.6"/><path d="M347.15,1260.7V1310 M322.5,1285.5H371.8 M329.3,1268.6Q347.15,1277.6 365,1268.6 M329.3,1302.1Q347.15,1293.1 365,1302.1"/></g>
</svg>
</body></html>
